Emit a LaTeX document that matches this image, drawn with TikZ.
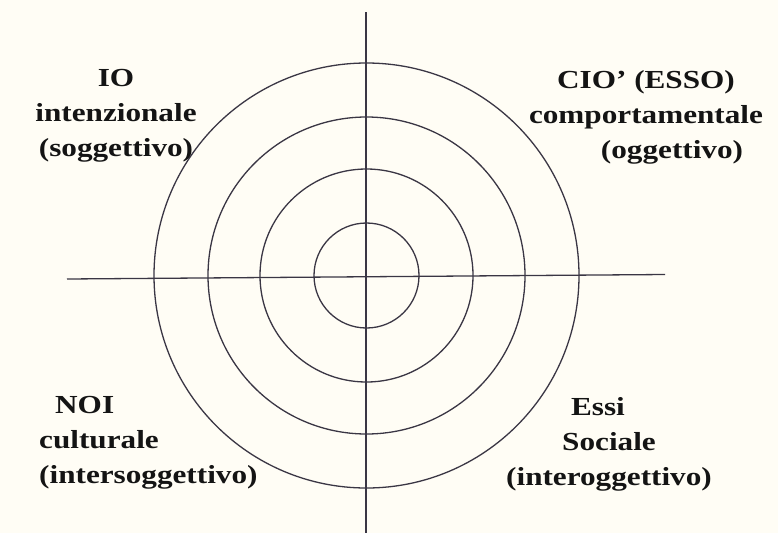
\documentclass[tikz,border=0pt]{standalone}
\usepackage{fontspec}
\setmainfont{Liberation Serif}[FakeStretch=1.2]
\definecolor{paper}{HTML}{FFFDF5}
\definecolor{ink}{HTML}{3A3644}
\definecolor{txt}{HTML}{141414}
\begin{document}
\begin{tikzpicture}[x=1pt,y=-1pt,
  ring/.style={draw=ink,line width=1.3pt},
  axis/.style={draw=ink,line width=1.3pt},
  quad/.style={inner sep=0pt,text=txt,font=\bfseries\fontsize{26}{35}\selectfont}]
  % canvas
  \fill[paper] (0,0) rectangle (778,533);
  \useasboundingbox (0,0) rectangle (778,533);
  % centre and axis ends
  \coordinate (c) at (366.5,275.5);
  \coordinate (top) at (366,12);
  \coordinate (bottom) at (366,533);
  \coordinate (left) at (67,279);
  \coordinate (right) at (665,274.5);
  % concentric rings
  \foreach \r in {52.5,106.5,158.5,212.5}
    \draw[ring] (c) circle[radius=\r];
  % axes
  \draw[axis] (top) -- (bottom);
  \draw[axis] (left) -- (right);
  % quadrant labels
  \node[quad,anchor=north,align=center] (io) at (116,69)
    {IO\\intenzionale\\(soggettivo)};
  \node[quad,anchor=north,align=center] (cio) at (646,70)
    {CIO’ (ESSO)\\comportamentale\\\hspace*{52pt}(oggettivo)};
  \node[quad,anchor=north west,align=left] (noi) at (39,396)
    {\hspace*{16pt}NOI\\culturale\\(intersoggettivo)};
  \node[quad,anchor=north,align=center] (essi) at (609,397)
    {Essi\hspace*{22pt}\\Sociale\hspace*{22pt}\\(interoggettivo)};
\end{tikzpicture}
\end{document}
